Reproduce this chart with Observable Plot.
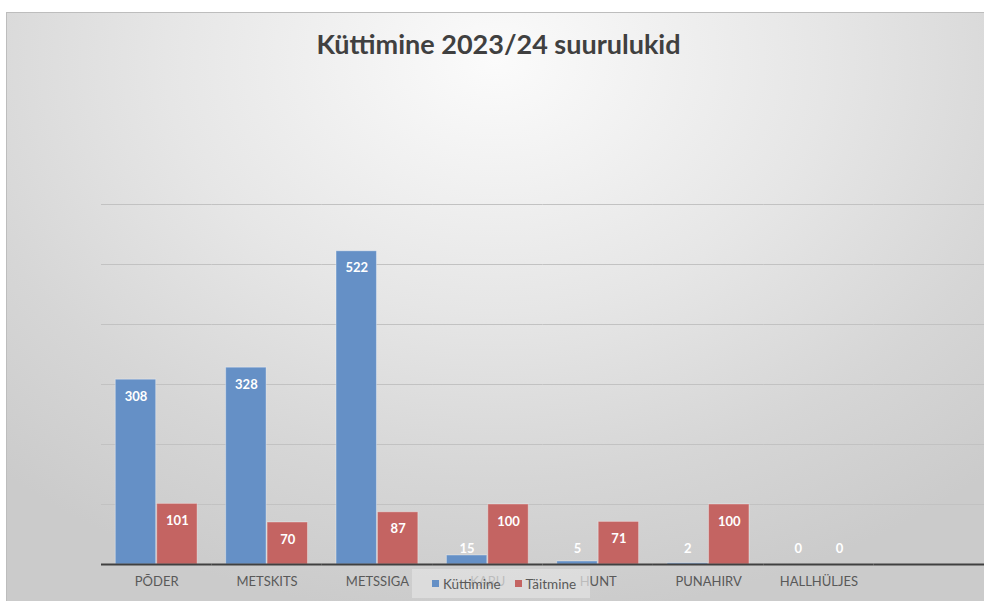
<!DOCTYPE html>
<html>
<head>
<meta charset="utf-8">
<script src="https://cdn.jsdelivr.net/npm/d3@7"></script>
<script src="https://cdn.jsdelivr.net/npm/@observablehq/plot@0.6"></script>
<style>
  html, body { margin: 0; padding: 0; background: #ffffff; }
  body { width: 984px; height: 601px; position: relative; overflow: hidden; font-family: Lato, "Open Sans", sans-serif; }
  #frame {
    position: absolute; left: 6px; top: 12px; width: 977px; height: 588px;
    border-top: 1px solid #bdbdbd; border-left: 1px solid #bdbdbd;
    background: radial-gradient(ellipse 75% 95% at 50% 8%, #fbfbfb 0%, #e6e6e6 45%, #d6d6d6 75%, #cbcbcb 100%);
  }
  #title {
    position: absolute; left: 3px; top: 15px; width: 977px; text-align: center;
    font-family: Lato, sans-serif; font-weight: bold; font-size: 27px; line-height: 32px; color: #404040;
  }
  #chart { position: absolute; left: 0; top: 87px; }
  #legend {
    position: absolute; left: 405px; top: 556px; width: 178px; height: 29px;
    background: rgba(226,226,226,0.72);
    display: flex; align-items: center; justify-content: center; gap: 14px;
    padding-left: 6px; box-sizing: border-box;
    font-family: Lato, sans-serif; font-size: 13.5px; color: #595959;
  }
  .item { display: flex; align-items: center; gap: 4px; }
  .sw { width: 7px; height: 7px; display: inline-block; }
</style>
</head>
<body>
<div id="frame">
  <div id="title">Küttimine 2023/24 suurulukid</div>
  <div id="chart"></div>
  <div id="legend"></div>
</div>
<script>
const categories = ["PÕDER", "METSKITS", "METSSIGA", "KARU", "HUNT", "PUNAHIRV", "HALLHÜLJES"];
const kuttimine = [308, 328, 522, 15, 5, 2, 0];
const taitmine = [101, 70, 87, 100, 71, 100, 0];
const series = ["Küttimine", "Täitmine"];
const colors = ["#6590c6", "#c46462"];
const yTicks = [0, 100, 200, 300, 400, 500, 600];

const rows = [];
categories.forEach((c, i) => {
  rows.push({cat: c, series: series[0], value: kuttimine[i]});
  rows.push({cat: c, series: series[1], value: taitmine[i]});
});

// the category axis has one trailing empty slot, as in the original
const slots = [...categories, ""];
const gridRows = [];
slots.forEach(c => yTicks.forEach(v => gridRows.push({cat: c, v})));

const chart = Plot.plot({
  width: 977,
  height: 501,
  marginLeft: 94,
  marginRight: 0,
  marginTop: 104,
  marginBottom: 37,
  style: {background: "transparent", fontFamily: "Lato, sans-serif", fontSize: "13px", color: "#595959"},
  fx: {domain: slots, padding: 0, round: false, label: null, tickSize: 0, tickPadding: 12, axis: "bottom"},
  x: {domain: series, axis: null, paddingInner: 0, paddingOuter: 0.333, round: false},
  y: {domain: [0, 600], axis: null},
  color: {domain: series, range: colors},
  marks: [
    Plot.ruleY(gridRows.filter(d => d.v > 0), {fx: "cat", y: "v", stroke: "#c2c2c2", strokeWidth: 1}),
    Plot.barY(rows, {fx: "cat", x: "series", y: "value", fill: "series", stroke: "#ffffff", strokeOpacity: 0.35, strokeWidth: 1, insetLeft: 0.5, insetRight: 0.5}),
    Plot.ruleY(gridRows.filter(d => d.v === 0), {fx: "cat", y: "v", stroke: "#404040", strokeWidth: 2}),
    Plot.text(rows, {fx: "cat", x: "series", y: d => Math.max(d.value, 55), dy: 17, text: d => String(d.value), fill: "white", fontWeight: "bold", fontSize: 13})
  ]
});
document.getElementById("chart").appendChild(chart);

const legend = document.getElementById("legend");
series.forEach((s, i) => {
  const it = document.createElement("div");
  it.className = "item";
  const sw = document.createElement("span");
  sw.className = "sw";
  sw.style.background = colors[i];
  const t = document.createElement("span");
  t.textContent = s;
  it.appendChild(sw);
  it.appendChild(t);
  legend.appendChild(it);
});
</script>
</body>
</html>
